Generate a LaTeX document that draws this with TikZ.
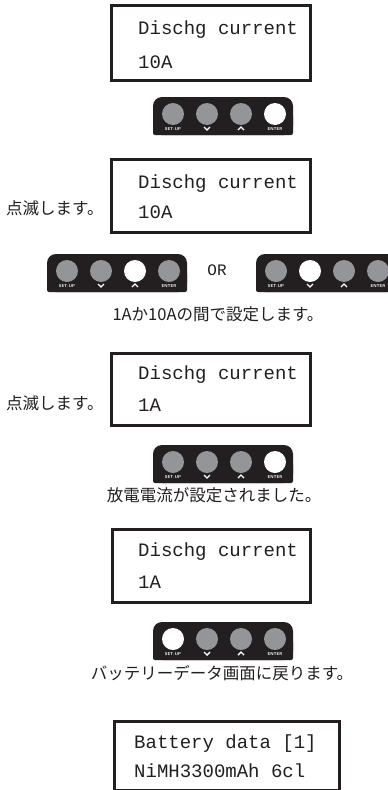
\documentclass[tikz,border=0pt]{standalone}
\usepackage{fontspec}
\setmainfont{Liberation Sans}
\newfontfamily\lcdfont{Liberation Mono}
\newfontfamily\jpfont{Noto Sans CJK JP}
\definecolor{ink}{HTML}{231F20}
\definecolor{btn}{HTML}{939598}
\newcommand{\keypad}[4]{%
  \begin{scope}[shift={(#2,#3)}]
    \fill[ink, rounded corners=9] (0,0) rectangle (140,38);
    \fill[ink, rounded corners=2] (0,18) rectangle (140,38);
    \foreach \i/\cx in {1/20,2/54,3/88,4/122} {
      \ifnum\i=#4 \def\bc{white}\else\def\bc{btn}\fi
      \node[keybtn, fill=\bc] (#1-\i) at (\cx,17) {};
    }
    \node[kplabel] (#1-l1) at (20,32.5) {SET-UP};
    \draw[chev] (51,30) -- (54,33) -- (57,30);
    \draw[chev] (85,33) -- (88,30) -- (91,33);
    \node[kplabel] (#1-l4) at (122,32.5) {ENTER};
  \end{scope}}
\begin{document}
\begin{tikzpicture}[x=1pt,y=-1pt,
  lcdbox/.style={draw=ink, line width=2.6pt, anchor=north west, inner sep=0pt},
  lcdtext/.style={font=\lcdfont\fontsize{19}{19}\selectfont, text=ink, anchor=base west, inner sep=0pt},
  jp/.style={font=\jpfont\fontsize{16.5}{16.5}\selectfont, text=ink, inner sep=0pt},
  keybtn/.style={circle, minimum size=22pt, inner sep=0pt},
  kplabel/.style={font=\sffamily\bfseries\fontsize{4.2}{4.2}\selectfont, text=white, inner sep=0pt},
  chev/.style={white, line width=1.4pt}]
\useasboundingbox (0,0) rectangle (388,790);
\fill[white] (0,0) rectangle (388,790);
% box 1
\node[lcdbox, minimum width=199pt, minimum height=75pt] (b1) at (110,4) {};
\node[lcdtext] (b1a) at (138,34) {Dischg current};
\node[lcdtext] (b1b) at (138,68) {10A};
\keypad{k1}{153}{97}{4}
% box 2
\node[lcdbox, minimum width=199pt, minimum height=73pt] (b2) at (110,158) {};
\node[lcdtext] (b2a) at (138,188) {Dischg current};
\node[lcdtext] (b2b) at (138,218) {10A};
\node[jp, anchor=west] (t2) at (6,208) {点滅します。};
\keypad{k2}{47}{254}{3}
\node[font=\lcdfont\fontsize{16}{16}\selectfont, text=ink, inner sep=0pt] (or) at (217,270) {OR};
\keypad{k2b}{256}{254}{2}
\node[jp] (t3) at (218,314) {1Aか10Aの間で設定します。};
% box 3
\node[lcdbox, minimum width=199pt, minimum height=72pt] (b3) at (110,352) {};
\node[lcdtext] (b3a) at (138,379) {Dischg current};
\node[lcdtext] (b3b) at (138,411) {1A};
\node[jp, anchor=west] (t4) at (6,403) {点滅します。};
\keypad{k3}{153}{445}{4}
\node[jp] (t5) at (214,495) {放電電流が設定されました。};
% box 4
\node[lcdbox, minimum width=198pt, minimum height=73pt] (b4) at (111,528) {};
\node[lcdtext] (b4a) at (138,556) {Dischg current};
\node[lcdtext] (b4b) at (138,588) {1A};
\keypad{k4}{153}{622}{1}
\node[jp] (t6) at (222,673) {バッテリーデータ画面に戻ります。};
% box 5
\node[lcdbox, minimum width=225pt, minimum height=69pt] (b5) at (113,720) {};
\node[lcdtext] (b5a) at (134,748) {Battery data [1]};
\node[lcdtext] (b5b) at (134,777) {NiMH3300mAh 6cl};
\end{tikzpicture}
\end{document}
